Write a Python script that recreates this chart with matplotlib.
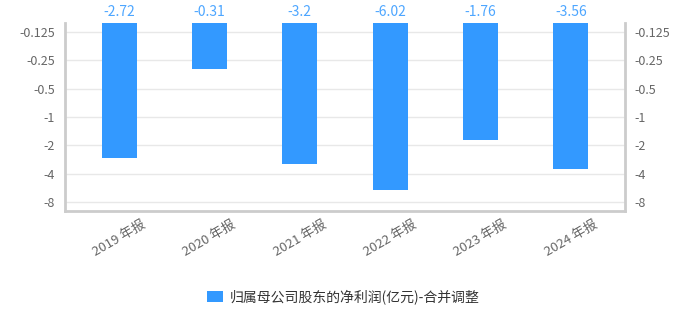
import matplotlib
matplotlib.use("Agg")
import matplotlib.pyplot as plt
from matplotlib.patches import Patch

plt.rcParams['font.family'] = ['Noto Sans CJK SC', 'DejaVu Sans']

# data
categories = ["2019 年报", "2020 年报", "2021 年报", "2022 年报", "2023 年报", "2024 年报"]
values = [-2.72, -0.31, -3.2, -6.02, -1.76, -3.56]
tick_values = [0.125, 0.25, 0.5, 1, 2, 4, 8]
tick_labels = ["-0.125", "-0.25", "-0.5", "-1", "-2", "-4", "-8"]
series_name = "归属母公司股东的净利润(亿元)-合并调整"

BAR_COLOR = "#3399ff"
LABEL_COLOR = "#4da6ff"
AXIS_COLOR = "#cccccc"
GRID_COLOR = "#e8e8e8"
TEXT_COLOR = "#666666"

Y_TOP, Y_BOTTOM = 0.1, 10.0

fig = plt.figure(figsize=(6.87, 3.17), dpi=100)
ax = fig.add_axes([0.0946, 0.3344, 0.8152, 0.593])

x = list(range(len(categories)))
mags = [abs(v) for v in values]
ax.bar(x, [m - Y_TOP for m in mags], bottom=Y_TOP, width=0.39,
       color=BAR_COLOR, zorder=3)

ax.set_yscale('log', base=2)
ax.set_ylim(Y_BOTTOM, Y_TOP)  # inverted: small magnitudes on top
ax.set_xlim(-0.6, 5.6)
ax.set_yticks(tick_values)
ax.set_yticklabels(tick_labels)
ax.yaxis.set_minor_locator(matplotlib.ticker.NullLocator())
ax.grid(axis='y', color=GRID_COLOR, linewidth=1, zorder=0)

ax.set_xticks(x)
ax.set_xticklabels(categories, rotation=30, ha='center')
ax.tick_params(axis='x', length=0, pad=5, labelsize=9.5, labelcolor=TEXT_COLOR)
ax.tick_params(axis='y', length=0, pad=7, labelsize=9, labelcolor=TEXT_COLOR)

for side in ['left', 'right', 'bottom']:
    ax.spines[side].set_color(AXIS_COLOR)
    ax.spines[side].set_linewidth(2)
ax.spines['top'].set_visible(False)

# right-hand axis mirrors the left one
ax2 = ax.twinx()
ax2.set_yscale('log', base=2)
ax2.set_ylim(Y_BOTTOM, Y_TOP)
ax2.set_yticks(tick_values)
ax2.set_yticklabels(tick_labels)
ax2.yaxis.set_minor_locator(matplotlib.ticker.NullLocator())
ax2.tick_params(axis='y', length=0, pad=7, labelsize=9, labelcolor=TEXT_COLOR)
for s in ax2.spines.values():
    s.set_visible(False)

for xi, v in zip(x, values):
    ax.annotate(f"{v:g}", xy=(xi, Y_TOP), xytext=(0, 8), textcoords='offset points',
                ha='center', va='center', fontsize=10, color=LABEL_COLOR,
                annotation_clip=False)

handle = Patch(facecolor=BAR_COLOR, edgecolor='none')
fig.legend([handle], [series_name], loc='center', bbox_to_anchor=(0.5, 0.063),
           frameon=False, fontsize=10, handlelength=1.1, handleheight=0.8,
           handletextpad=0.5, labelcolor='#333333')

fig.savefig("out.png", dpi=100)
